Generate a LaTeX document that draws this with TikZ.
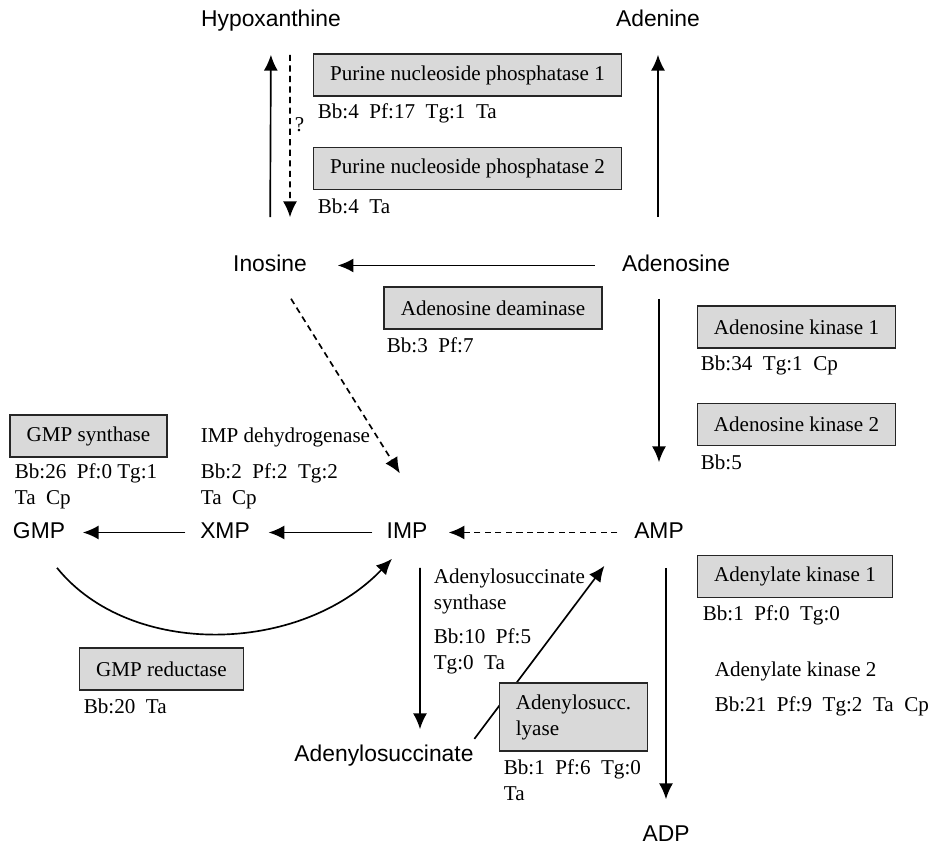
\documentclass[tikz,border=0pt]{standalone}
\usepackage{fontspec}
\setmainfont{Liberation Serif}
\setsansfont{Liberation Sans}
\usetikzlibrary{arrows.meta}
\begin{document}
\begin{tikzpicture}
	[mol/.style={font=\sffamily\fontsize{13}{15.6}\selectfont,inner sep=0pt,text height=0.33cm,text depth=0.1cm},
	enzyme/.style={draw=black!85,fill=gray!30,line width=0.9pt,inner xsep=0.33cm,minimum height=0.84cm,font=\fontsize{12}{14.8}\selectfont},
	info/.style={anchor=west,inner sep=0pt,align=left,font=\fontsize{12}{14.8}\selectfont},
	>={Latex[length=9pt,width=8pt]},line width=0.95pt]
	\useasboundingbox (0,0) rectangle (18.64,16.9);
	\node[mol,name=hypox]at(5.42,16.49){Hypoxanthine};
	\node[mol,name=adenine]at(13.16,16.49){Adenine};
	\node[mol,name=inosine]at(5.40,11.59){Inosine};
	\node[mol,name=adenosine]at(13.52,11.59){Adenosine};
	\node[mol,name=GMP]at(0.78,6.25){GMP};
	\node[mol,name=XMP]at(4.50,6.25){XMP};
	\node[mol,name=IMP]at(8.14,6.25){IMP};
	\node[mol,name=AMP]at(13.18,6.25){AMP};
	\node[mol,name=adsucc]at(7.68,1.79){Adenylosuccinate};
	\node[mol,name=ADP]at(13.32,0.19){ADP};
	\draw[->,shorten <=0.735cm,shorten >=0.455cm] (inosine.north) -- (hypox.south);
	\draw[->,dash pattern=on 3.5pt off 2.5pt,shorten <=0.455cm,shorten >=0.735cm] ([xshift=0.38cm]hypox.south) -- ([xshift=0.4cm]inosine.north);
	\draw[->,shorten <=0.735cm,shorten >=0.455cm] (adenine.south |- adenosine.north) -- (adenine.south);
	\draw[->,shorten <=0.53cm,shorten >=0.6cm] (adenosine) -- (inosine);
	\draw[->,dash pattern=on 3.5pt off 2.5pt,shorten <=0.51cm,shorten >=1.12cm] ([xshift=0.15cm]inosine.south) -- ([xshift=0.45cm]IMP.north);
	\draw[->,shorten <=0.435cm,shorten >=1.175cm] (AMP.north |- adenosine.south) -- (AMP.north);
	\draw[->,dash pattern=on 3.5pt off 2.5pt,shorten <=0.32cm,shorten >=0.41cm] (AMP) -- (IMP);
	\draw[->,shorten <=0.27cm,shorten >=0.36cm] (IMP) -- (XMP);
	\draw[->,shorten <=0.28cm,shorten >=0.34cm] (XMP) -- (GMP);
	\draw[->] ([xshift=0.36cm,yshift=-0.475cm]GMP.south) .. controls +(1.46,-1.81) and +(-1.84,-1.92) .. ([xshift=-0.3cm,yshift=-0.295cm]IMP.south);
	\draw[->,shorten <=0.475cm,shorten >=0.295cm] ([xshift=0.26cm]IMP.south) -- ([xshift=0.72cm]adsucc.north);
	\draw[->] ([yshift=0.1cm]adsucc.north east) -- ([xshift=-0.58cm,yshift=-0.435cm]AMP.south west);
	\draw[->,shorten <=0.475cm,shorten >=0.495cm] (ADP.north |- AMP.south) -- (ADP.north);
	\node[enzyme,name=pnp1]at(9.35,15.40){Purine nucleoside phosphatase 1};
	\node[enzyme,name=pnp2]at(9.35,13.53){Purine nucleoside phosphatase 2};
	\node[enzyme,name=ada]at(9.86,10.74){Adenosine deaminase};
	\node[enzyme,name=adok1]at(15.93,10.36){Adenosine kinase 1};
	\node[enzyme,name=adok2]at(15.93,8.41){Adenosine kinase 2};
	\node[enzyme,name=gmps]at(1.77,8.18){GMP synthase};
	\node[enzyme,name=gmpr]at(3.23,3.52){GMP reductase};
	\node[enzyme,name=adk1]at(15.90,5.37){Adenylate kinase 1};
	\node[enzyme,name=lyase,align=left,minimum height=1.36cm]at(11.47,2.56){Adenylosucc.\\lyase};
	\node[info,name=q]at(5.88,14.40){?};
	\node[info,name=pnp1n]at(6.34,14.64){Bb:4~~Pf:17~~Tg:1~~Ta};
	\node[info,name=pnp2n]at(6.34,12.78){Bb:4~~Ta};
	\node[info,name=adan]at(7.72,9.99){Bb:3~~Pf:7};
	\node[info,name=adok1n]at(14.00,9.60){Bb:34~~Tg:1~~Cp};
	\node[info,name=adok2n]at(14.00,7.66){Bb:5};
	\node[info,name=gmpsn]at(0.28,7.18){Bb:26~~Pf:0 Tg:1\\Ta~~Cp};
	\node[info,name=impdh]at(4.00,8.16){IMP dehydrogenase};
	\node[info,name=impdhn]at(4.00,7.18){Bb:2~~Pf:2~~Tg:2\\Ta~~Cp};
	\node[info,name=adss]at(8.66,5.08){Adenylosuccinate\\synthase};
	\node[info,name=adssn]at(8.66,3.88){Bb:10~~Pf:5\\Tg:0~~Ta};
	\node[info,name=lyasen]at(10.06,1.29){Bb:1~~Pf:6~~Tg:0\\Ta};
	\node[info,name=adk1n]at(14.04,4.60){Bb:1~~Pf:0~~Tg:0};
	\node[info,name=adk2]at(14.28,3.48){Adenylate kinase 2};
	\node[info,name=adk2n]at(14.28,2.78){Bb:21~~Pf:9~~Tg:2~~Ta~~Cp};
	\node[info,name=gmprn]at(1.66,2.78){Bb:20~~Ta};
\end{tikzpicture}
\end{document}
